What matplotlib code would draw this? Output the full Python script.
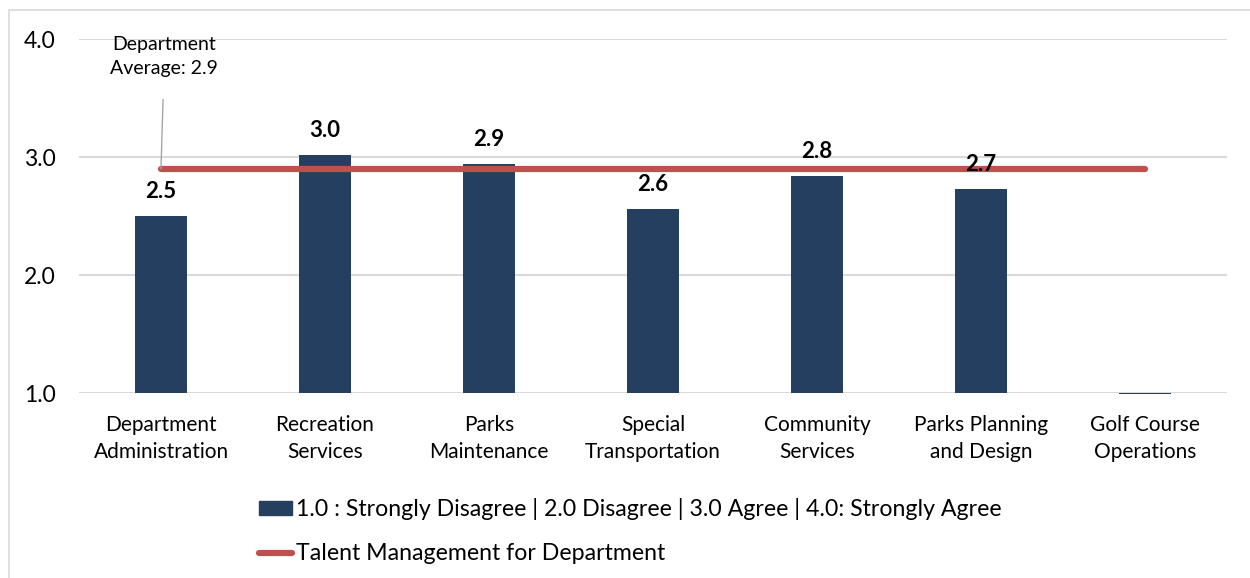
import matplotlib
matplotlib.use("Agg")
import matplotlib.pyplot as plt
from matplotlib.patches import Rectangle
from matplotlib.lines import Line2D

plt.rcParams['font.family'] = ['Lato', 'DejaVu Sans']

categories = ["Department\nAdministration", "Recreation\nServices", "Parks\nMaintenance",
              "Special\nTransportation", "Community\nServices", "Parks Planning\nand Design",
              "Golf Course\nOperations"]
scores = [2.50, 3.02, 2.94, 2.56, 2.84, 2.73, 0.99]
show_label = [True, True, True, True, True, True, False]
dept_average = 2.9
y_ticks = [1.0, 2.0, 3.0, 4.0]

bar_color = "#243F60"
line_color = "#C0504D"
base = 1.0

fig = plt.figure(figsize=(12.5, 5.78), dpi=100)
ax = fig.add_axes([0.0632, 0.320, 0.9184, 0.6125])

x = list(range(len(categories)))
heights = [v - base for v in scores]
ax.bar(x, heights, bottom=base, width=0.32, color=bar_color, zorder=2, clip_on=False)

for xi, v, show in zip(x, scores, show_label):
    if show:
        ax.annotate(f"{v:.1f}", (xi, v), xytext=(0, 10), textcoords="offset points",
                    ha="center", va="bottom", fontsize=16, fontweight="bold", zorder=4)

ax.plot([x[0], x[-1]], [dept_average, dept_average], color=line_color, lw=4.5,
        solid_capstyle="round", zorder=3)

ax.annotate(f"Department\nAverage: {dept_average}", xy=(x[0], dept_average),
            xytext=(x[0] + 0.02, 3.85), ha="center", va="center", fontsize=14,
            linespacing=1.5,
            arrowprops=dict(arrowstyle="-", color="#A6A6A6", lw=1,
                            shrinkA=14, shrinkB=0))

ax.set_xlim(-0.5, len(categories) - 0.5)
ax.set_ylim(1.0, 4.0)
ax.set_yticks(y_ticks)
ax.set_yticklabels([f"{t:.1f}" for t in y_ticks], fontsize=16.5)
ax.set_xticks(x)
ax.set_xticklabels(categories, fontsize=15, linespacing=1.45)
ax.tick_params(axis="x", length=0, pad=16)
ax.tick_params(axis="y", length=0, pad=17)
ax.grid(axis="y", color="#D9D9D9", lw=1.5, zorder=0)
for s in ax.spines.values():
    s.set_visible(False)

handles = [Rectangle((0, 0), 1, 1, color=bar_color),
           Line2D([0], [0], color=line_color, lw=4.5, solid_capstyle="round")]
labels = ["1.0 : Strongly Disagree | 2.0 Disagree | 3.0 Agree | 4.0: Strongly Agree",
          "Talent Management for Department"]
leg = fig.legend(handles, labels, loc="upper left", bbox_to_anchor=(0.207, 0.138),
                 frameon=False, fontsize=16.7, handlelength=1.45, handleheight=0.5,
                 handletextpad=0.15, labelspacing=0.98, borderaxespad=0, borderpad=0)

fig.patches.append(Rectangle((9 / 1250, -0.01), 1.0, 1 - 10 / 578 + 0.01,
                             transform=fig.transFigure, fill=False,
                             edgecolor="#D9D9D9", lw=1.2))

fig.savefig("out.png", dpi=100)
